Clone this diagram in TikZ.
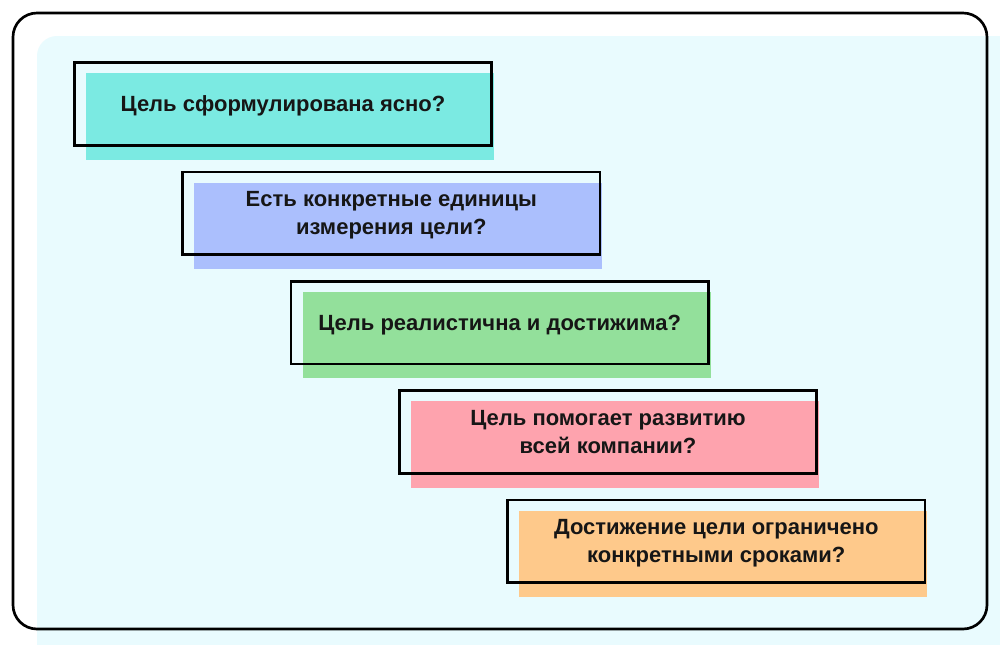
\documentclass[tikz,border=0pt]{standalone}
\usepackage{fontspec}
\setmainfont{Liberation Sans}
\usetikzlibrary{calc}
\usetikzlibrary{positioning}
\usetikzlibrary{backgrounds}
\definecolor{areacyan}{HTML}{E9FBFE}
\definecolor{fillturq}{HTML}{7BEAE2}
\definecolor{fillblue}{HTML}{ABBFFD}
\definecolor{fillgreen}{HTML}{93E09B}
\definecolor{fillpink}{HTML}{FEA3AE}
\definecolor{fillorange}{HTML}{FEC98B}
\definecolor{textdark}{HTML}{161616}

\begin{document}
\begin{tikzpicture}[x=0.75pt, y=-0.75pt,
      question/.style ={draw=black, line width=1.8pt, minimum width=313pt, minimum height=62pt, align=center, text depth=0pt, text=textdark, font=\fontsize{16.5}{21}\selectfont\bfseries},
      node distance=18.2pt
    ]
    \useasboundingbox (0,0) rectangle (1000,644);
    \node [question] (clear) at (283,104) {Цель сформулирована ясно?} ;
    \node [question] (measure) [below=of clear, xshift=81.25pt] {Есть конкретные единицы\\измерения цели?} ;
    \node [question] (real) [below=of measure, xshift=81.25pt] {Цель реалистична и достижима?} ;
    \node [question] (company) [below=of real, xshift=81.25pt] {Цель помогает развитию\\всей компании?} ;
    \node [question] (deadline) [below=of company, xshift=81.25pt] {Достижение цели ограничено\\конкретными сроками?} ;

    \begin{scope}[on background layer]
      \fill [white] (0,0) rectangle (1000,644) ;
      \begin{scope}
        \clip (0,0) rectangle (1000,644) ;
        \fill [areacyan, rounded corners=15] (37,36) rectangle (1040,680) ;
      \end{scope}
      \draw [line width=2pt, rounded corners=18] (13,13) rectangle (987,629) ;
      \fill [fillturq] ($(clear.north west)+(13,12)$) rectangle ($(clear.south east)+(1,13)$) ;
      \fill [fillblue] ($(measure.north west)+(13,12)$) rectangle ($(measure.south east)+(1,13)$) ;
      \fill [fillgreen] ($(real.north west)+(13,12)$) rectangle ($(real.south east)+(1,13)$) ;
      \fill [fillpink] ($(company.north west)+(13,12)$) rectangle ($(company.south east)+(1,13)$) ;
      \fill [fillorange] ($(deadline.north west)+(13,12)$) rectangle ($(deadline.south east)+(1,13)$) ;
    \end{scope}
\end{tikzpicture}
\end{document}
